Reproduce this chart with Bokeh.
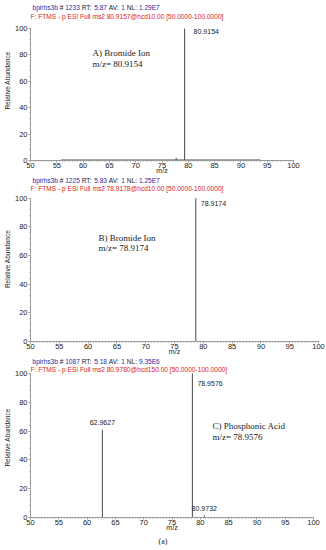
from bokeh.plotting import figure
from bokeh.models import Label, Range1d, FixedTicker, Title
from bokeh.layouts import column
from bokeh.embed import file_html
from bokeh.resources import INLINE

# ---------------- data ----------------
x_ticks = [50, 55, 60, 65, 70, 75, 80, 85, 90, 95, 100]
y_ticks = [0, 20, 40, 60, 80, 100]

a_header1 = ["bpirhs3b", "#", "1233", "RT:", "5.87", "AV:", "1", "NL:", "1.29E7"]
a_header2 = "F: FTMS - p ESI Full ms2 80.9157@hcd10.00 [50.0000-100.0000]"
a_title = ["A) Bromide Ion", "m/z= 80.9154"]
a_peak_mz = [77.7, 79.3]
a_peak_int = [2, 100]
a_peak_labels = ["", "80.9154"]
a_noise_mz = [55.8, 93.7]

b_header1 = ["bpirhs3b", "#", "1225", "RT:", "5.83", "AV:", "1", "NL:", "1.25E7"]
b_header2 = "F: FTMS - p ESI Full ms2 78.9178@hcd10.00 [50.0000-100.0000]"
b_title = ["B) Bromide Ion", "m/z= 78.9174"]
b_peak_mz = [78.7]
b_peak_int = [100]
b_peak_labels = ["78.9174"]

c_header1 = ["bpirhs3b", "#", "1087", "RT:", "5.18", "AV:", "1", "NL:", "9.35E6"]
c_header2 = "F: FTMS - p ESI Full ms2 80.9780@hcd150.00 [50.0000-100.0000]"
c_title = ["C) Phosphonic Acid", "m/z= 78.9576"]
c_peak_mz = [62.7, 78.6, 80.7]
c_peak_int = [61, 100, 1.5]
c_peak_labels = ["62.9627", "78.9576", "80.9732"]

caption = "(a)"

# ---------------- styling helpers ----------------
SANS = "Liberation Sans"
SERIF = "Liberation Serif"
BLUE = "#2b2ba8"
BLACK = "#222222"
RED = "#e0202a"
AXIS = "#9a9a9a"
PEAK = "#4a4a4a"
HDR = 6.6

W = {" ": 278, "#": 556, ".": 278, ":": 278, "A": 667, "E": 667, "L": 556, "N": 722,
     "R": 722, "T": 611, "V": 667, "b": 556, "h": 556, "i": 222, "p": 556, "r": 333, "s": 500}


def tw(s, size):
    return sum(W.get(ch, 556) for ch in s) * size / 1000.0


def make_fig(width, top_pad, plot_h, bottom, left=30, right=6):
    # frame extends top_pad pixels above the 100 % level so header texts sit inside it
    y_end = 100.0 * (plot_h + top_pad) / plot_h
    p = figure(width=width, height=top_pad + plot_h + bottom,
               x_range=Range1d(50, 100), y_range=Range1d(0, y_end),
               output_backend="svg", toolbar_location=None,
               min_border_left=left, min_border_right=right,
               min_border_top=0, min_border_bottom=bottom)
    p.outline_line_color = None
    p.grid.visible = False
    p.xaxis.ticker = FixedTicker(ticks=x_ticks, minor_ticks=[x / 2 for x in range(100, 201)])
    p.yaxis.ticker = FixedTicker(ticks=y_ticks, minor_ticks=list(range(0, 101, 4)))
    p.yaxis.bounds = (0, 100)
    for ax in (p.xaxis[0], p.yaxis[0]):
        ax.axis_line_color = AXIS
        ax.major_tick_line_color = AXIS
        ax.minor_tick_line_color = AXIS
        ax.major_tick_out = 2
        ax.major_tick_in = 0
        ax.minor_tick_out = 1
        ax.minor_tick_in = 0
        ax.major_label_text_font = SANS
        ax.major_label_text_font_size = "7.5px"
        ax.major_label_text_color = BLACK
        ax.axis_label_text_font = SANS
        ax.axis_label_text_font_style = "normal"
        ax.axis_label_text_color = BLACK
    p.xaxis.major_label_standoff = 0
    p.yaxis.major_label_standoff = 1
    p.yaxis.axis_label = "Relative Abundance"
    p.yaxis.axis_label_text_font_size = "6.5px"
    p.yaxis.axis_label_standoff = 1
    p.xaxis.axis_label = "m/z"
    p.xaxis.axis_label_text_font_size = "7px"
    p.xaxis.axis_label_standoff = -4
    return p


def add_header(p, tokens, line2, x0, y1, y2, size=HDR):
    x = x0
    for i, t in enumerate(tokens):
        col = BLUE if i % 2 == 0 else BLACK
        p.add_layout(Label(x=x, y=y1, x_units="screen", y_units="screen", text=t,
                           text_font=SANS, text_font_size=f"{size}px", text_color=col,
                           text_baseline="middle"))
        x += tw(t + " ", size)
    p.add_layout(Label(x=max(x0 - 2, 0), y=y2, x_units="screen", y_units="screen", text=line2,
                       text_font=SANS, text_font_size=f"{size}px", text_color=RED,
                       text_baseline="middle"))


def add_title(p, lines, x, y1, y2):
    for t, y in zip(lines, (y1, y2)):
        p.add_layout(Label(x=x, y=y, x_units="screen", y_units="screen", text=t,
                           text_font=SERIF, text_font_size="9px", text_color=BLACK,
                           text_baseline="middle"))


def add_peaks(p, mz, inten, labels, tall_dx, tall_dy):
    p.segment(x0=mz, y0=[0] * len(mz), x1=mz, y1=inten, line_color=PEAK, line_width=1)
    for m, h, t in zip(mz, inten, labels):
        if not t:
            continue
        if h >= 90:
            p.add_layout(Label(x=m, y=h, x_offset=tall_dx, y_offset=-tall_dy, text=t,
                               text_font=SANS, text_font_size="7px", text_color=BLACK,
                               text_baseline="middle"))
        else:
            p.add_layout(Label(x=m, y=h, y_offset=7, text=t,
                               text_font=SANS, text_font_size="7px", text_color=BLACK,
                               text_align="center", text_baseline="middle"))


# ---------------- panel A ----------------
pA = make_fig(width=300, top_pad=28, plot_h=132, bottom=16, right=7)
pA.segment(x0=[a_noise_mz[0]], y0=[0.4], x1=[a_noise_mz[1]], y1=[0.4], line_color="#555555", line_width=1)
add_header(pA, a_header1, a_header2, 2, 153, 144)
add_title(pA, a_title, 62, 108, 97)
add_peaks(pA, a_peak_mz, a_peak_int, a_peak_labels, 9, 3)

# ---------------- panel B ----------------
pB = make_fig(width=325, top_pad=22, plot_h=144, bottom=15, right=5)
add_header(pB, b_header1, b_header2, 2, 161, 153)
add_title(pB, b_title, 68, 104, 94)
add_peaks(pB, b_peak_mz, b_peak_int, b_peak_labels, 5, 5)

# ---------------- panel C ----------------
pC = make_fig(width=320, top_pad=16, plot_h=144, bottom=33, right=7)
add_header(pC, c_header1, c_header2, 2, 156, 148)
add_title(pC, c_title, 182, 92, 81)
add_peaks(pC, c_peak_mz, c_peak_int, c_peak_labels, 5, 10)
pC.add_layout(Title(text=caption, align="left", offset=128, standoff=3,
                    text_font=SERIF, text_font_size="8px", text_color=BLACK,
                    text_font_style="normal"), "below")

layout = column(pA, pB, pC, spacing=0)

open("out.html", "w").write(file_html(layout, INLINE))
